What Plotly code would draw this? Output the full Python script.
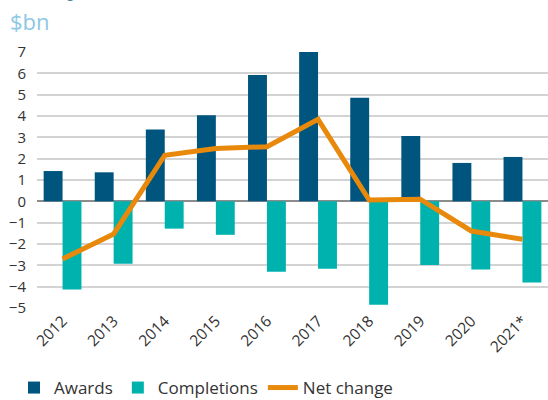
import plotly.graph_objects as go

years = ["2012", "2013", "2014", "2015", "2016", "2017", "2018", "2019", "2020", "2021*"]
awards = [1.42, 1.36, 3.37, 4.04, 5.92, 7.0, 4.85, 3.06, 1.8, 2.08]
completions = [-4.13, -2.92, -1.28, -1.57, -3.3, -3.16, -4.85, -2.99, -3.2, -3.81]
net_change = [-2.7, -1.53, 2.16, 2.48, 2.56, 3.84, 0.06, 0.1, -1.39, -1.78]
y_ticks = [7, 6, 5, 4, 3, 2, 1, 0, -1, -2, -3, -4, -5]

FONT = "Open Sans"
fig = go.Figure()
fig.add_trace(go.Bar(x=years, y=awards, name="Awards", marker_color="#00557F",
                     marker_line_width=0))
fig.add_trace(go.Bar(x=years, y=completions, name="Completions", marker_color="#00B2AE",
                     marker_line_width=0))
fig.add_trace(go.Scatter(x=years, y=net_change, name="Net change", mode="lines",
                         line=dict(color="#E8890C", width=5)))

W, H = 548, 400
L, T, PW, PH = 37, 52, 511, 256
fig.update_layout(
    width=W, height=H,
    margin=dict(l=L, r=W - L - PW, t=T, b=H - T - PH, pad=0, autoexpand=False),
    paper_bgcolor="white", plot_bgcolor="white",
    barmode="group", bargap=0.26, bargroupgap=0,
    font=dict(family=FONT, color="#333333", size=15),
    showlegend=True,
    legend=dict(orientation="h", x=-0.045, xanchor="left", y=-0.3125, yanchor="middle",
                font=dict(size=17, color="#333333"),
                traceorder="normal", bgcolor="rgba(0,0,0,0)"),
    xaxis=dict(tickangle=-45, showgrid=False, showline=False, ticks="", automargin=False,
               tickfont=dict(size=15.5, color="#333333")),
    yaxis=dict(range=[-5, 7], tickvals=y_ticks, showgrid=True, gridcolor="#D3D3D3",
               gridwidth=1.5, zeroline=True, zerolinecolor="#8C8C8C", zerolinewidth=1.5,
               ticks="", automargin=False, tickfont=dict(size=15, color="#333333"),
               ticklabelstandoff=10),
    annotations=[
        dict(text="<b>PROJECT MARKET ACTIVITY</b>", xref="paper", yref="paper",
             x=-30 / PW, y=1, xanchor="left", yanchor="bottom", yshift=47,
             showarrow=False, font=dict(size=29, color="#00557F", family=FONT)),
        dict(text="$bn", xref="paper", yref="paper", x=-29 / PW, y=1,
             xanchor="left", yanchor="bottom", yshift=14, showarrow=False,
             font=dict(size=22, color="#8CC8E6", family=FONT)),
    ],
)
fig.write_html("out.html", config={"displayModeBar": False},
               post_script="document.body.style.margin='0';")
